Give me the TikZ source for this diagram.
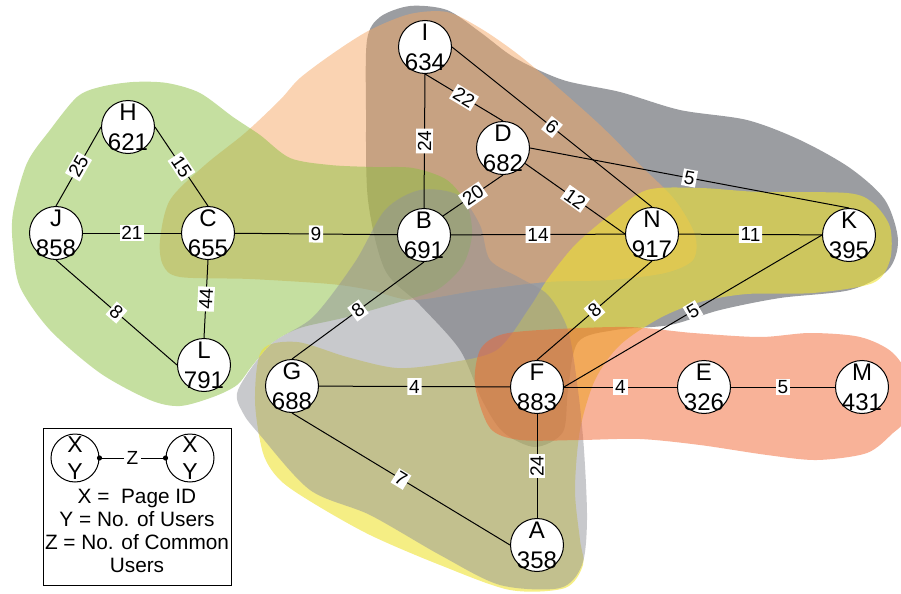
\documentclass[tikz,border=0pt]{standalone}
\usepackage{fontspec}
\setmainfont{Liberation Sans}
\usetikzlibrary{positioning}
\definecolor{grpdark}{RGB}{55,59,67}
\definecolor{grppeach}{RGB}{245,167,101}
\definecolor{grpgreen}{RGB}{139,191,65}
\definecolor{grpyellow}{RGB}{238,226,50}
\definecolor{grplight}{RGB}{145,147,153}
\definecolor{grpsalmon}{RGB}{241,101,49}
\begin{document}
\begin{tikzpicture}[x=0.5pt, y=-0.5pt,
    page/.style={circle, draw, fill=white, line width=0.5pt, minimum size=26.5pt, inner sep=0pt},
    keypage/.style={circle, draw, fill=white, line width=0.5pt, minimum size=24pt, inner sep=0pt},
    pagetext/.style={align=center, inner sep=0pt, font=\fontsize{12}{15}\selectfont},
    keytext/.style={align=center, inner sep=0pt, font=\fontsize{11.5}{13.5}\selectfont},
    link/.style={line width=0.5pt},
    weight/.style={sloped, midway, fill=white, inner sep=0.9pt, font=\fontsize{9.5}{10}\selectfont},
    blob/.style={draw=none, fill opacity=0.5}]
    \useasboundingbox (0,0) rectangle (901,594);
    % Groups
    \fill[blob, fill=grpdark] plot[smooth cycle] coordinates {
        (367,40) (380,17) (410,6) (447,10) (480,32) (515,58) (563,80) (620,92)
        (680,110) (747,120) (800,140) (850,168) (885,200) (898,240) (888,270)
        (850,290) (780,298) (720,310) (670,325) (615,330) (578,342) (568,390)
        (563,432) (535,447) (503,432) (482,400) (460,350) (420,305) (385,270)
        (368,200) (366,110)};
    \fill[blob, fill=grppeach] plot[smooth cycle] coordinates {
        (160,240) (170,200) (205,165) (245,133) (280,100) (300,78) (335,52)
        (370,30) (410,14) (447,12) (480,28) (515,52) (555,85) (600,125)
        (640,165) (675,200) (695,235) (693,260) (665,273) (610,280) (547,282)
        (480,290) (413,300) (370,290) (330,284) (250,279) (180,277) (163,265)};
    \fill[blob, fill=grpgreen] plot[smooth cycle] coordinates {
        (13,213) (27,163) (50,130) (77,97) (100,87) (133,82) (167,83)
        (200,93) (233,117) (260,135) (290,158) (330,165) (373,167) (413,168)
        (447,180) (467,205) (472,235) (463,265) (440,288) (413,298) (347,317)
        (300,328) (272,343) (252,366) (237,385) (213,397) (180,406) (150,400)
        (100,373) (50,330) (20,287) (13,247)};
    \fill[blob, fill=grpyellow, fill opacity=0.6] plot[smooth cycle] coordinates {
        (262,350) (297,342) (347,357) (397,368) (447,363) (497,350) (530,307)
        (547,280) (575,245) (610,215) (647,190) (700,188) (760,192) (847,193)
        (873,203) (890,227) (890,260) (873,283) (813,293) (747,294) (700,302)
        (660,318) (620,345) (595,380) (580,430) (575,490) (580,540) (583,565)
        (565,588) (510,590) (440,565) (370,535) (313,503) (280,480) (263,453)
        (255,400)};
    \fill[blob, fill=grplight] plot[smooth cycle] coordinates {
        (243,413) (238,390) (270,345) (313,317) (355,262) (385,210) (420,190)
        (458,195) (480,225) (490,260) (520,278) (548,295) (568,330) (578,390)
        (584,450) (587,520) (582,565) (560,588) (500,585) (440,555) (370,515)
        (310,490) (260,435)};
    \fill[blob, fill=grpsalmon] plot[smooth cycle] coordinates {
        (475,385) (480,350) (500,335) (540,330) (627,327) (693,333) (760,337)
        (810,333) (860,337) (893,353) (912,385) (905,420) (893,433) (867,453)
        (817,460) (767,455) (700,445) (640,439) (580,440) (520,440) (490,428)};
    % Pages
    \foreach \pid/\users/\x/\y in {I/634/425/47, D/682/503/148, H/621/128/127,
        J/858/56/233, C/655/208/233, B/691/424/235, N/917/652/234, K/395/849/235,
        L/791/204/365, G/688/292/386, F/883/537/387, E/326/704/387,
        M/431/862/387, A/358/537/545}
    {
        \node[page, label={[pagetext]center:{\pid\\\users}}] (\pid) at (\x,\y) {};
    }
    % Links
    \draw[link] (H.west) -- node[weight] {25} (J.north);
    \draw[link] (H.east) -- node[weight] {15} (C.north);
    \draw[link] (J) -- node[weight] {21} (C);
    \draw[link] (J.south) -- node[weight] {8} (L.west);
    \draw[link] (C.south) -- node[weight] {44} (L.north);
    \draw[link] (C) -- node[weight] {9} (B);
    \draw[link] (I.south) -- node[weight] {24} (B.north);
    \draw[link] (I.south) -- node[weight] {22} (D.north);
    \draw[link] (I.east) -- node[weight] {6} (N.north);
    \draw[link] (D.south) -- node[weight] {20} (B.north east);
    \draw[link] (D.-35) -- node[weight] {12} (N.west);
    \draw[link] (D.east) -- node[weight] {5} (K.north);
    \draw[link] (B) -- node[weight] {14} (N);
    \draw[link] (N) -- node[weight] {11} (K);
    \draw[link] (B.south) -- node[weight] {8} (G.north);
    \draw[link] (N.south) -- node[weight] {8} (F.north);
    \draw[link] (K.west) -- node[weight] {5} (F.east);
    \draw[link] (G) -- node[weight] {4} (F);
    \draw[link] (F) -- node[weight] {4} (E);
    \draw[link] (E) -- node[weight] {5} (M);
    \draw[link] (G.south) -- node[weight] {7} (A.west);
    \draw[link] (A.north) -- node[weight] {24} (F.south);
    % Legend
    \draw[line width=0.5pt] (43,428) rectangle (231,585);
    \node[keypage, label={[keytext]center:{X\\Y}}] (keyleft) at (75,458) {};
    \node[keypage, label={[keytext]center:{X\\Y}}] (keyright) at (190,458) {};
    \draw[link] (keyleft.east) -- node[fill=white, inner sep=1.5pt, font=\fontsize{9.5}{9.5}\selectfont] {Z} (keyright.west);
    \fill (keyleft.east) circle (1.3pt);
    \fill (keyright.west) circle (1.3pt);
    \node[align=center, font=\fontsize{10.4}{11.5}\selectfont] (keynote) at (137,531)
        {X = \ Page ID\\Y = No. of Users\\Z = No. of Common\\Users};
\end{tikzpicture}
\end{document}
